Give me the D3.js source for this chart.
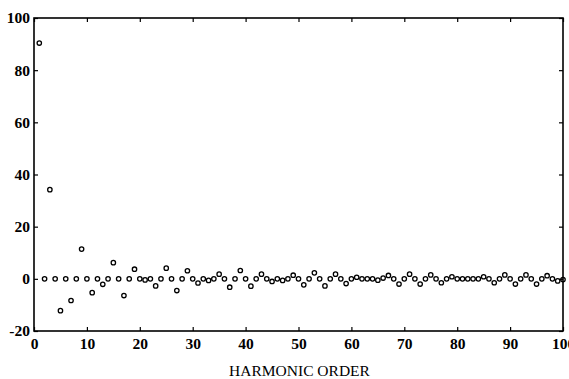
<!DOCTYPE html>
<html>
<head>
<meta charset="utf-8">
<script src="https://cdn.jsdelivr.net/npm/d3@7"></script>
<style>
  html, body { margin: 0; padding: 0; background: #fff; }
  svg { display: block; }
  .tick text { font-family: "Liberation Serif", serif; }
</style>
</head>
<body>
<div id="chart"></div>
<script>
// Harmonic orders 1..100
const harmonicOrder = d3.range(1, 101);
const amplitude = [
  90.4, 0, 34.2, 0, -12.2, 0, -8.3, 0, 11.4, 0,
  -5.3, 0, -2.1, 0, 6.2, 0, -6.4, 0, 3.7, 0,
  -0.4, 0, -2.7, 0, 4.1, 0, -4.5, 0, 3.1, 0,
  -1.6, 0, -0.6, 0, 1.8, 0, -3.2, 0, 3.2, 0,
  -2.8, 0, 1.8, 0, -1.0, 0, -0.6, 0, 1.4, 0,
  -2.3, 0, 2.3, 0, -2.7, 0, 1.8, 0, -1.8, 0,
  0.6, 0, 0, 0, -0.5, 0.3, 1.3, 0, -2.0, 0,
  1.8, 0, -2.0, 0, 1.5, 0, -1.5, 0, 0.8, 0,
  0, 0, 0, 0, 0.8, 0, -1.5, 0, 1.5, 0,
  -2.0, 0, 1.5, 0, -2.0, 0, 1.2, 0, -0.8, -0.3
];
const xTicks = [0, 10, 20, 30, 40, 50, 60, 70, 80, 90, 100];
const xTickLabels = ["0", "10", "20", "30", "40", "50", "60", "70", "80", "90", "100"];
const yTicks = [-20, 0, 20, 40, 60, 80, 100];
const yTickLabels = ["-20", "0", "20", "40", "60", "80", "100"];
const xTitle = "HARMONIC ORDER";

const W = 569, H = 379;
const m = { left: 34, right: 6, top: 18, bottom: 48 };
const iw = W - m.left - m.right, ih = H - m.top - m.bottom;

const svg = d3.select("#chart").append("svg")
  .attr("width", W).attr("height", H);
const g = svg.append("g").attr("transform", `translate(${m.left},${m.top})`);

const x = d3.scaleLinear().domain([0, 100]).range([0, iw]);
const y = d3.scaleLinear().domain([-20, 100]).range([ih, 0]);

// frame
g.append("rect").attr("x", 0).attr("y", 0).attr("width", iw).attr("height", ih)
  .attr("fill", "none").attr("stroke", "#000").attr("stroke-width", 1.6);

function styleAxis(sel, showLabels) {
  sel.select(".domain").remove();
  sel.selectAll(".tick line").attr("stroke", "#000").attr("stroke-width", 1.2);
  sel.selectAll(".tick text")
    .attr("fill", "#000")
    .style("font-size", "15.5px")
    .style("font-weight", "bold");
  if (!showLabels) sel.selectAll(".tick text").remove();
}

// bottom
g.append("g").attr("transform", `translate(0,${ih})`)
  .call(d3.axisBottom(x).tickValues(xTicks).tickSize(-4).tickPadding(7)
    .tickFormat((d, i) => xTickLabels[i]))
  .call(s => styleAxis(s, true));
// top
g.append("g")
  .call(d3.axisTop(x).tickValues(xTicks).tickSize(-4).tickFormat(""))
  .call(s => styleAxis(s, false));
// left
g.append("g")
  .call(d3.axisLeft(y).tickValues(yTicks).tickSize(-4).tickPadding(4)
    .tickFormat((d, i) => yTickLabels[i]))
  .call(s => styleAxis(s, true));
// right
g.append("g").attr("transform", `translate(${iw},0)`)
  .call(d3.axisRight(y).tickValues(yTicks).tickSize(-4).tickFormat(""))
  .call(s => styleAxis(s, false));

// points
g.selectAll("circle.pt").data(harmonicOrder.map((h, i) => ({ h, v: amplitude[i] })))
  .enter().append("circle").attr("class", "pt")
  .attr("cx", d => x(d.h)).attr("cy", d => y(d.v))
  .attr("r", 2.2)
  .attr("fill", "none").attr("stroke", "#000").attr("stroke-width", 1.3);

// x title
svg.append("text")
  .attr("x", m.left + iw / 2 + 1).attr("y", 376)
  .attr("text-anchor", "middle")
  .style("font-family", "'Liberation Serif', serif")
  .style("font-size", "15.5px")
  .text(xTitle);
</script>
</body>
</html>
